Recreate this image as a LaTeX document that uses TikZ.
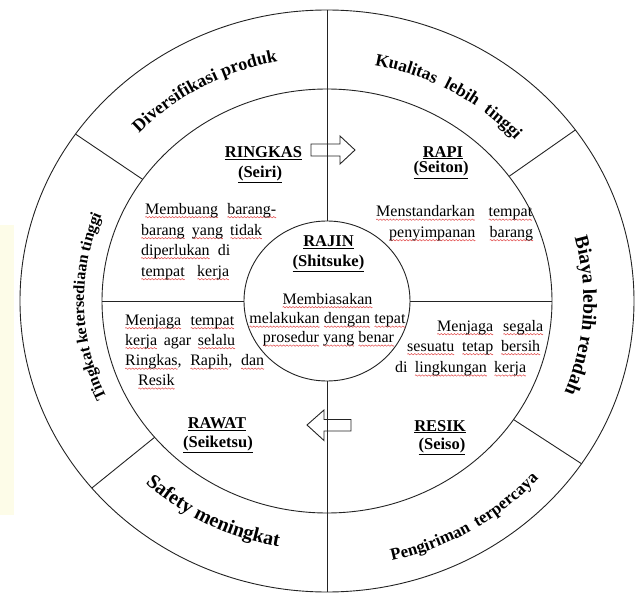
\documentclass[tikz,border=0pt]{standalone}
\usepackage{fontspec}
\setmainfont{Liberation Serif}
\usetikzlibrary{decorations.text}
\definecolor{sqred}{RGB}{225,70,70}
\definecolor{linegray}{RGB}{35,35,35}
\definecolor{paleyellow}{RGB}{253,252,232}
\newsavebox\wavebox
\newcommand\sq[1]{\setbox0\hbox{#1}\rlap{\lower3.2pt\hbox to \wd0{\xleaders\copy\wavebox\hfill}}\box0\relax}
% #1 size, #2 text, #3 start angle, #4 end angle, #5 x radius, #6 y radius
\newcommand\ringtxt[6]{%
  \path[decorate,decoration={text along path,text align=center,text color=black,
    text={|\fontsize{#1}{#1}\selectfont\bfseries|#2}}] (#3:#5 and #6) arc[start angle=#3,end angle=#4,x radius=#5,y radius=#6];
}
\begin{document}
\begin{tikzpicture}[x=1pt,y=1pt,
  ring/.style={draw=linegray,line width=0.9pt},
  divider/.style={draw=linegray,line width=0.9pt},
  body/.style={font=\fontsize{16}{18}\selectfont,inner sep=0pt,anchor=base west},
  bodyc/.style={font=\fontsize{16}{18}\selectfont,inner sep=0pt,anchor=base},
  head/.style={font=\fontsize{16.5}{19}\selectfont\bfseries,inner sep=0pt,anchor=base},
  arrowshape/.style={draw=linegray,line width=0.9pt,line join=miter}]
\sbox\wavebox{\tikz[baseline=0pt]{\path[use as bounding box] (0pt,-0.8pt) rectangle (3.2pt,0.8pt);
  \draw[sqred,line width=0.5pt] (0pt,0pt) sin (0.8pt,0.7pt) cos (1.6pt,0pt) sin (2.4pt,-0.7pt) cos (3.2pt,0pt);}}
\useasboundingbox (-327,-291) rectangle (313,301);
\fill[paleyellow] (-327,76) rectangle (-313,-214);
\coordinate (C) at (0,0);
% circles
\draw[ring] (C) ellipse [x radius=307pt,y radius=291pt];
\draw[ring] (C) ellipse [x radius=225pt,y radius=212pt];
\draw[ring] (C) ellipse [x radius=83pt,y radius=80pt];
% divider end points
\coordinate (oT) at (90:307pt and 291pt);
\coordinate (iT) at (90:83pt and 80pt);
\coordinate (oB) at (270:307pt and 291pt);
\coordinate (iB) at (270:83pt and 80pt);
\coordinate (mL) at (180:225pt and 212pt);
\coordinate (iL) at (180:83pt and 80pt);
\coordinate (mR) at (0:225pt and 212pt);
\coordinate (iR) at (0:83pt and 80pt);
\foreach \a/\n in {145/ul,36/ur,220/ll,-34/lr}{
  \coordinate (m\n) at (\a:225pt and 212pt);
  \coordinate (o\n) at (\a:307pt and 291pt);
}
\draw[divider] (oT) -- (iT);
\draw[divider] (iB) -- (oB);
\draw[divider] (mL) -- (iL);
\draw[divider] (iR) -- (mR);
\draw[divider] (mul) -- (oul);
\draw[divider] (mur) -- (our);
\draw[divider] (mll) -- (oll);
\draw[divider] (mlr) -- (olr);
% arrows
\coordinate (arR) at (-16,145);
\draw[arrowshape] (arR) -- ++(29,0) -- ++(0,-8) -- ++(15,14) -- ++(-15,14) -- ++(0,-8) -- ++(-29,0) -- cycle;
\coordinate (arL) at (-20,-124);
\draw[arrowshape] (arL) -- ++(17,15) -- ++(0,-9.5) -- ++(27,0) -- ++(0,-11.5) -- ++(-27,0) -- ++(0,-9.5) -- cycle;
% headings
\node[head] (ringkas) at (-63.5,143.8) {\underline{RINGKAS}};
\node[head] (seiri) at (-67,123.5) {\underline{(Seiri)}};
\node[head] (rapi) at (116,143.8) {\underline{RAPI}};
\node[head] (seiton) at (114,128.2) {\underline{(Seiton)}};
\node[head] (rajin) at (1.5,54.5) {\underline{RAJIN}};
\node[head] (shitsuke) at (1.5,34.8) {\underline{(Shitsuke)}};
\node[head] (rawat) at (-110,-127.5) {\underline{RAWAT}};
\node[head] (seiketsu) at (-109,-146.5) {\underline{(Seiketsu)}};
\node[head] (resik) at (113,-130) {\underline{RESIK}};
\node[head] (seiso) at (115,-148.5) {\underline{(Seiso)}};
% body text
\node[body] (a1) at (-182,87) {\makebox[131pt][s]{\sq{Membuang} \sq{barang-}}};
\node[body] (a2) at (-186,66) {\makebox[121pt][s]{\sq{barang} \sq{yang} \sq{tidak}}};
\node[body] (a3) at (-186,46) {\makebox[89pt][s]{\sq{diperlukan} di}};
\node[body] (a4) at (-186,25) {\makebox[88pt][s]{\sq{tempat} \sq{kerja}}};
\node[body] (b1) at (49,84.5) {\makebox[156pt][s]{\sq{Menstandarkan} \sq{tempat}}};
\node[body] (b2) at (62,64) {\makebox[144pt][s]{\sq{penyimpanan} \sq{barang}}};
\node[bodyc] (c0) at (0.5,-3) {\sq{Membiasakan}};
\node[bodyc] (c1) at (0.5,-22.5) {\makebox[156pt][s]{\sq{melakukan} \sq{dengan} \sq{tepat}}};
\node[bodyc] (c2) at (1.5,-41.4) {\makebox[131pt][s]{\sq{prosedur} \sq{yang} \sq{benar}}};
\node[body] (d1) at (-202,-24) {\makebox[109pt][s]{\sq{Menjaga} \sq{tempat}}};
\node[body] (d2) at (-202,-44) {\makebox[110pt][s]{\sq{kerja} agar \sq{selalu}}};
\node[body] (d3) at (-202,-64.5) {\makebox[139pt][s]{\sq{Ringkas}, \sq{Rapih}, \sq{dan}}};
\node[body] (d4) at (-189,-84.3) {\sq{Resik}};
\node[body] (e1) at (110,-30) {\makebox[106pt][s]{\sq{Menjaga} \sq{segala}}};
\node[body] (e2) at (80,-50) {\makebox[133pt][s]{\sq{sesuatu} \sq{tetap} \sq{bersih}}};
\node[body] (e3) at (68,-71.3) {\makebox[131pt][s]{di \sq{lingkungan} \sq{kerja}}};
% outer ring texts
\ringtxt{18}{Diversifikasi produk}{149}{89}{259pt}{244pt}
\ringtxt{17.5}{Kualitas{\kern5pt} lebih{\kern5pt} tinggi}{90}{31}{254pt}{240pt}
\ringtxt{19.5}{Biaya lebih rendah}{26.5}{-33.5}{256.5pt}{241.7pt}
\ringtxt{16}{Tingkat ketersediaan tinggi}{211.5}{151.5}{243pt}{229pt}
\ringtxt{20}{Safety meningkat}{213}{273}{266pt}{250pt}
\ringtxt{17}{Pengiriman{\kern3pt} terpercaya}{-89}{-29}{283.5pt}{267pt}
\end{tikzpicture}
\end{document}
